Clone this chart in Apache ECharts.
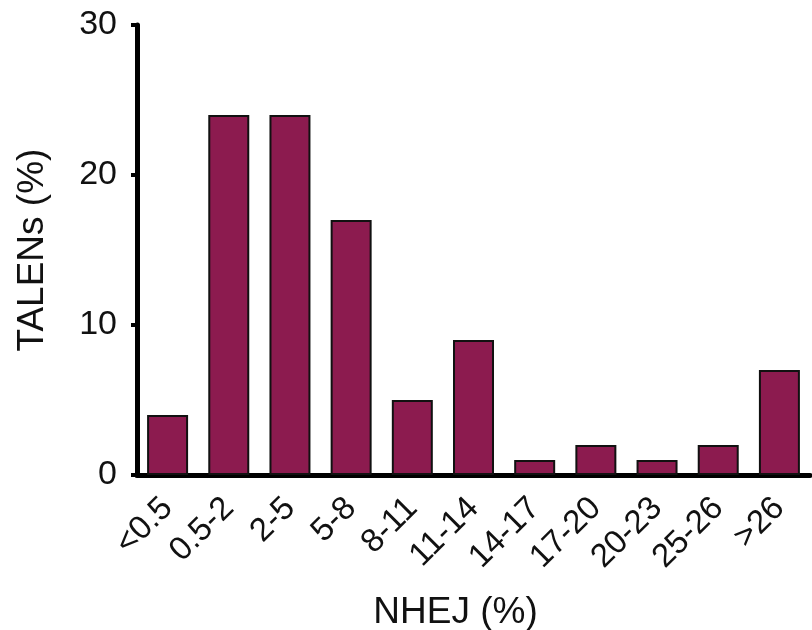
<!DOCTYPE html>
<html lang="en">
<head>
    <meta charset="UTF-8">
    <title>TALENs vs NHEJ</title>
    <script src="https://cdn.jsdelivr.net/npm/echarts@6/dist/echarts.min.js"></script>
    <style>
        html, body { margin: 0; padding: 0; background: #fff; }
        #main { width: 812px; height: 630px; }
    </style>
</head>
<body>
<div id="main"></div>
<script type="text/javascript">
    // NHEJ bins and share of TALENs in each (%)
    var categories = ['<0.5', '0.5-2', '2-5', '5-8', '8-11', '11-14', '14-17', '17-20', '20-23', '25-26', '>26'];
    var talens = [4, 24, 24, 17, 5, 9, 1, 2, 1, 2, 7];
    var yTicks = [0, 10, 20, 30];

    var font = '"Liberation Sans", Arial, Helvetica, sans-serif';
    var myChart = echarts.init(document.getElementById('main'));
    myChart.setOption({
        animation: false,
        grid: {
            left: 137,
            right: 2,
            top: 25,
            bottom: 155,
            containLabel: false,
            outerBoundsMode: 'none'
        },
        xAxis: {
            type: 'category',
            data: categories,
            name: 'NHEJ (%)',
            nameLocation: 'middle',
            nameGap: 119,
            nameTextStyle: {
                color: '#111',
                fontSize: 37,
                fontFamily: font,
                padding: [0, 36, 0, 0]
            },
            axisLine: { lineStyle: { color: '#000', width: 5 } },
            axisTick: {
                alignWithLabel: true,
                length: 6,
                lineStyle: { color: '#000', width: 4 }
            },
            axisLabel: {
                rotate: 45,
                margin: 28,
                color: '#111',
                fontSize: 33,
                fontFamily: font
            }
        },
        yAxis: {
            type: 'value',
            min: yTicks[0],
            max: yTicks[yTicks.length - 1],
            interval: 10,
            name: 'TALENs (%)',
            nameLocation: 'middle',
            nameRotate: 90,
            nameGap: 86,
            nameTextStyle: {
                color: '#111',
                fontSize: 37,
                fontFamily: font
            },
            splitLine: { show: false },
            axisLine: { show: true, lineStyle: { color: '#000', width: 5 } },
            axisTick: {
                show: true,
                length: 6,
                lineStyle: { color: '#000', width: 4 }
            },
            axisLabel: {
                margin: 20,
                color: '#111',
                fontSize: 34,
                fontFamily: font
            }
        },
        series: [
            {
                type: 'bar',
                data: talens,
                barCategoryGap: '33%',
                itemStyle: {
                    color: '#8c1b4f',
                    borderColor: '#111',
                    borderWidth: 2
                }
            }
        ]
    });
</script>
</body>
</html>
